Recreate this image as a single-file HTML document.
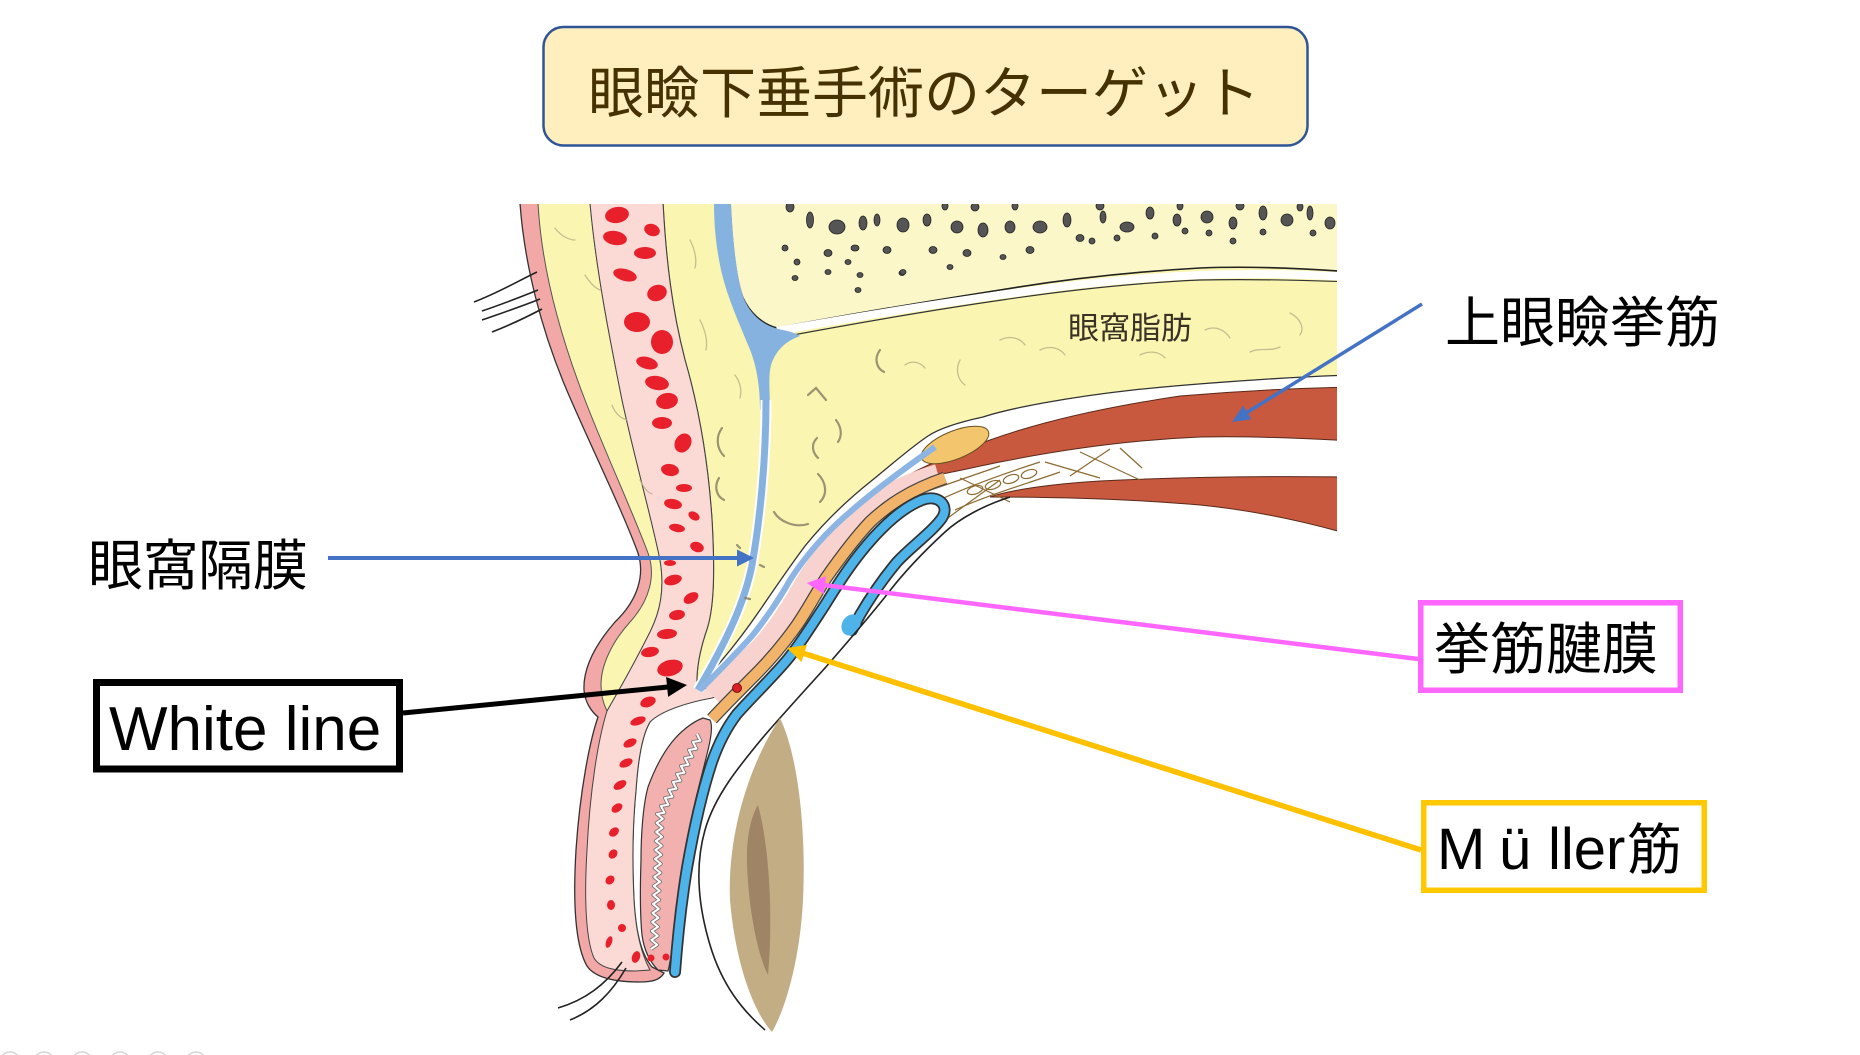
<!DOCTYPE html>
<html><head><meta charset="utf-8"><style>html,body{margin:0;padding:0;background:#fff;}svg{display:block}</style></head>
<body>
<svg width="1860" height="1055" viewBox="0 0 1860 1055" xmlns="http://www.w3.org/2000/svg">
<defs><clipPath id="ill"><rect x="470" y="204" width="867" height="851"/></clipPath></defs>
<rect width="1860" height="1055" fill="#fff"/>

<!-- Title -->
<rect x="543.5" y="27" width="764" height="118.5" rx="20" fill="#FFEEBE" stroke="#2F5597" stroke-width="2.5"/>
<text x="924" y="113" font-family="'Liberation Sans','Noto Sans CJK JP',sans-serif" font-size="56" fill="#463200" text-anchor="middle">眼瞼下垂手術のターゲット</text>

<g clip-path="url(#ill)">
<!-- orbital fat / posterior yellow -->
<path d="M663,203 L1352,203 L1352,375 C1290,377 1200,383 1133,390 C1070,397 1010,408 983,417 C960,422 940,428 928,436 C910,448 890,466 870,482 C845,502 822,525 805,546 C790,566 775,588 760,610 C745,632 722,662 697,688 C696,670 700,650 706,632 C714,610 715,575 712,520 C708,460 698,405 685,360 C672,310 666,260 663,203 Z" fill="#FAF5B0"/>
<path d="M1352,375 C1290,377 1200,383 1133,390 C1070,397 1010,408 983,417 C960,422 940,428 928,436 C910,448 890,466 870,482 C845,502 822,525 805,546 C790,566 775,588 760,610 C745,632 722,662 697,688" fill="none" stroke="#333" stroke-width="1.3"/>

<!-- bone -->
<path d="M730,203 L1352,203 L1352,272 C1300,268 1250,266 1200,268 C1130,272 1060,280 1000,290 C930,301 850,314 777,328 C762,324 750,313 743,298 C736,280 732,245 730,203 Z" fill="#FBF7C8"/>
<path d="M1352,272 C1300,268 1250,266 1200,268 C1130,272 1060,280 1000,290 C930,301 850,314 777,328 C762,324 750,313 743,298 C736,280 732,245 730,203" fill="none" stroke="#222" stroke-width="1.6"/>
<path d="M777,331 C850,318 930,305 1000,295 C1060,286 1130,278 1200,275 C1250,273 1300,274 1352,277" fill="none" stroke="#fff" stroke-width="8"/>
<path d="M782,337 C852,324 932,310 1002,300 C1062,291 1132,283 1200,280 C1250,279 1300,280 1352,282" fill="none" stroke="#333" stroke-width="1.2"/>

<!-- bone dots -->
<g fill="#555" stroke="#222" stroke-width="0.8">
<ellipse cx="790" cy="207" rx="4" ry="5"/><ellipse cx="810" cy="220" rx="3.5" ry="8"/><ellipse cx="837" cy="227" rx="8" ry="7"/><ellipse cx="863" cy="223" rx="4" ry="7"/><ellipse cx="877" cy="220" rx="3" ry="6"/><ellipse cx="903" cy="225" rx="6" ry="7"/>
<ellipse cx="785" cy="248" rx="3" ry="3"/><ellipse cx="797" cy="262" rx="3" ry="3"/><ellipse cx="828" cy="253" rx="4" ry="3.5"/><ellipse cx="855" cy="248" rx="4" ry="3"/><ellipse cx="887" cy="250" rx="4" ry="3.5"/><ellipse cx="848" cy="262" rx="3" ry="2.5"/><ellipse cx="795" cy="278" rx="3" ry="2.5"/><ellipse cx="828" cy="272" rx="3" ry="2.5"/><ellipse cx="860" cy="275" rx="3" ry="2.5"/><ellipse cx="902" cy="273" rx="3" ry="2.5"/><ellipse cx="858" cy="290" rx="3" ry="2.5"/>
<ellipse cx="927" cy="220" rx="4" ry="6"/><ellipse cx="957" cy="227" rx="6" ry="6"/><ellipse cx="983" cy="230" rx="5" ry="7"/><ellipse cx="1010" cy="227" rx="5" ry="6"/><ellipse cx="1040" cy="227" rx="7" ry="6"/><ellipse cx="1067" cy="220" rx="4" ry="7"/><ellipse cx="1080" cy="238" rx="4" ry="3.5"/><ellipse cx="1103" cy="217" rx="3" ry="6"/><ellipse cx="1127" cy="227" rx="7" ry="5"/><ellipse cx="1150" cy="213" rx="4" ry="6"/><ellipse cx="1177" cy="220" rx="4" ry="6"/><ellipse cx="1185" cy="231" rx="3" ry="3"/><ellipse cx="1207" cy="217" rx="6" ry="6"/><ellipse cx="1233" cy="223" rx="4" ry="6"/><ellipse cx="1263" cy="213" rx="4" ry="7"/><ellipse cx="1287" cy="220" rx="6" ry="6"/><ellipse cx="1310" cy="213" rx="3" ry="7"/><ellipse cx="1330" cy="223" rx="5" ry="6"/>
<ellipse cx="1092" cy="241" rx="3" ry="3"/><ellipse cx="1117" cy="238" rx="3" ry="3"/><ellipse cx="1155" cy="236" rx="3" ry="3"/><ellipse cx="1209" cy="233" rx="3" ry="3"/><ellipse cx="1233" cy="241" rx="3" ry="3"/><ellipse cx="1263" cy="232" rx="3" ry="3"/><ellipse cx="1313" cy="233" rx="3" ry="3"/>
<ellipse cx="933" cy="250" rx="4" ry="3.5"/><ellipse cx="967" cy="253" rx="4" ry="3.5"/><ellipse cx="1003" cy="257" rx="3" ry="2.5"/><ellipse cx="1030" cy="250" rx="4" ry="3.5"/><ellipse cx="950" cy="267" rx="3" ry="2.5"/><ellipse cx="903" cy="272" rx="3" ry="2.5"/>
<ellipse cx="945" cy="206" rx="3" ry="4"/><ellipse cx="975" cy="207" rx="4" ry="4"/><ellipse cx="1015" cy="206" rx="3" ry="4"/><ellipse cx="1100" cy="206" rx="4" ry="4"/><ellipse cx="1180" cy="206" rx="3" ry="4"/><ellipse cx="1240" cy="206" rx="4" ry="4"/><ellipse cx="1300" cy="207" rx="3" ry="4"/>
</g>

<!-- levator, oval, superior rectus -->
<path d="M905,477 C920,468 950,455 990,440 C1040,422 1100,408 1180,396 C1250,390 1300,388 1352,387 L1352,441 C1300,438 1250,436 1200,437 C1130,440 1060,450 1000,462 C960,470 930,478 905,479 Z" fill="#C8583E" stroke="#5a2a1a" stroke-width="1"/>
<ellipse cx="955" cy="445" rx="36" ry="14" transform="rotate(-22 955 445)" fill="#F3C66E" stroke="#6a5020" stroke-width="1"/>
<path d="M990,497 C1010,490 1050,484 1100,481 C1180,477 1270,476 1352,477 L1352,535 C1300,520 1250,510 1200,505 C1130,499 1060,497 990,497 Z" fill="#C8583E" stroke="#5a2a1a" stroke-width="1"/>
<g fill="none" stroke="#8C6A30" stroke-width="1.2">
<path d="M925,492 L1000,466"/><path d="M935,502 C960,490 990,478 1040,462"/><path d="M955,510 C985,496 1020,486 1060,472"/>
<ellipse cx="975" cy="490" rx="8" ry="4" transform="rotate(-18 975 490)"/><ellipse cx="993" cy="485" rx="8" ry="4" transform="rotate(-18 993 485)"/><ellipse cx="1011" cy="479" rx="8" ry="4" transform="rotate(-18 1011 479)"/><ellipse cx="1029" cy="474" rx="8" ry="4" transform="rotate(-18 1029 474)"/>
<path d="M1080,452 L1140,480"/><path d="M1110,449 L1070,476"/><path d="M1120,448 L1142,468"/><path d="M945,520 L1000,480"/><path d="M960,478 L1010,502"/><path d="M1045,462 L1100,478"/>
</g>

<!-- skin (outer pink) -->
<path d="M520,203 C524,260 540,330 571,400 C595,455 622,510 638,553 C645,575 638,600 615,622 C595,645 583,668 584,690 C585,703 592,712 598,717 C590,740 580,790 576,850 C573,900 575,945 587,966 C595,978 615,982 640,982 C652,982 660,980 664,973 L652,967 C642,955 636,935 634,900 C632,860 633,820 636,790 C638,760 642,735 650,722 C660,710 680,700 697,688 C696,670 700,650 706,632 C714,610 715,575 712,520 C708,460 698,405 685,360 C672,310 666,260 663,203 Z" fill="#F2A8A6" stroke="#333" stroke-width="1.3"/>
<!-- subcutaneous yellow -->
<path d="M538,203 C541,260 556,325 585,400 C605,452 632,510 648,553 C656,575 650,600 630,622 C612,642 601,665 601,685 C601,697 604,705 607,711 C625,680 640,652 650,632 C660,612 665,590 660,560 C652,520 635,460 622,400 C610,340 596,270 590,203 Z" fill="#FAF5B0" stroke="#555" stroke-width="1"/>
<!-- muscle light pink -->
<path d="M590,203 C596,270 610,340 622,400 C635,460 652,520 660,560 C665,590 660,612 650,632 C640,652 625,680 607,711 C598,740 590,790 587,850 C584,900 586,940 594,958 C600,968 615,971 635,971 L650,970 C642,955 636,935 634,900 C632,860 633,820 636,790 C638,760 642,735 650,722 C662,710 690,702 712,698 L735,690 L697,688 C696,670 700,650 706,632 C714,610 715,575 712,520 C708,460 698,405 685,360 C672,310 666,260 663,203 Z" fill="#FBDAD6" stroke="#444" stroke-width="1"/>

<!-- red blobs -->
<g fill="#E8202C">
<ellipse cx="617" cy="215" rx="12" ry="8" transform="rotate(-10 617 215)"/><ellipse cx="652" cy="230" rx="8" ry="6" transform="rotate(20 652 230)"/><ellipse cx="615" cy="238" rx="12" ry="7" transform="rotate(10 615 238)"/><ellipse cx="645" cy="253" rx="11" ry="6"/><ellipse cx="625" cy="275" rx="12" ry="6" transform="rotate(15 625 275)"/><ellipse cx="657" cy="293" rx="10" ry="8" transform="rotate(-20 657 293)"/><ellipse cx="637" cy="322" rx="13" ry="10"/><ellipse cx="662" cy="342" rx="11" ry="12"/><ellipse cx="647" cy="363" rx="11" ry="6" transform="rotate(15 647 363)"/><ellipse cx="657" cy="383" rx="12" ry="7" transform="rotate(10 657 383)"/><ellipse cx="667" cy="401" rx="11" ry="8" transform="rotate(-10 667 401)"/><ellipse cx="662" cy="423" rx="10" ry="6"/><ellipse cx="683" cy="443" rx="8" ry="10" transform="rotate(30 683 443)"/><ellipse cx="670" cy="470" rx="9" ry="6" transform="rotate(10 670 470)"/><ellipse cx="684" cy="488" rx="8" ry="4"/><ellipse cx="673" cy="504" rx="9" ry="5" transform="rotate(10 673 504)"/><ellipse cx="694" cy="516" rx="6" ry="4" transform="rotate(30 694 516)"/><ellipse cx="677" cy="528" rx="8" ry="4" transform="rotate(10 677 528)"/><ellipse cx="697" cy="547" rx="7" ry="5" transform="rotate(20 697 547)"/><ellipse cx="670" cy="563" rx="6" ry="3"/><ellipse cx="673" cy="580" rx="9" ry="5" transform="rotate(-15 673 580)"/><ellipse cx="691" cy="598" rx="8" ry="5" transform="rotate(-30 691 598)"/><ellipse cx="677" cy="615" rx="8" ry="5" transform="rotate(-10 677 615)"/>
<ellipse cx="667" cy="634" rx="10" ry="5" transform="rotate(-5 667 634)"/><ellipse cx="650" cy="652" rx="9" ry="5" transform="rotate(-10 650 652)"/><ellipse cx="670" cy="668" rx="13" ry="8" transform="rotate(-15 670 668)"/><ellipse cx="648" cy="702" rx="8" ry="5" transform="rotate(-20 648 702)"/><ellipse cx="638" cy="721" rx="8" ry="4" transform="rotate(-20 638 721)"/><ellipse cx="630" cy="743" rx="7" ry="4" transform="rotate(-25 630 743)"/><ellipse cx="626" cy="763" rx="7" ry="4" transform="rotate(-25 626 763)"/><ellipse cx="620" cy="785" rx="7" ry="4" transform="rotate(-30 620 785)"/><ellipse cx="617" cy="808" rx="6" ry="4" transform="rotate(-35 617 808)"/><ellipse cx="614" cy="832" rx="5.5" ry="4" transform="rotate(-40 614 832)"/><ellipse cx="613" cy="854" rx="5" ry="4" transform="rotate(-50 613 854)"/><ellipse cx="610" cy="880" rx="5" ry="4" transform="rotate(-45 610 880)"/><ellipse cx="611" cy="905" rx="4" ry="5"/><ellipse cx="622" cy="928" rx="4" ry="4"/><ellipse cx="609" cy="942" rx="3" ry="6" transform="rotate(20 609 942)"/><ellipse cx="636" cy="957" rx="4" ry="6" transform="rotate(20 636 957)"/>
</g>

<!-- septum -->
<path d="M714,203 L731,203 C733,245 737,280 744,299 C751,315 763,325 778,329 C788,331 796,333 800,336 C786,341 776,350 771,365 C768,378 770,392 770,410 L760,410 C760,385 756,362 748,345 C738,320 726,295 720,265 C716,245 714,225 714,203 Z" fill="#86B2E0"/>
<path d="M766,400 C766,460 760,520 752,565 C745,600 730,635 698,690" fill="none" stroke="#fff" stroke-width="11"/>
<path d="M766,400 C766,460 760,520 752,565 C745,600 730,635 698,690" fill="none" stroke="#86B2E0" stroke-width="7"/>

<!-- aponeurosis (pink), light blue, Muller (orange) -->
<path d="M712,695 C728,680 745,662 760,648 C775,632 790,610 805,583 C820,558 840,535 864,512 C885,495 905,484 938,474" fill="none" stroke="#F8D2CE" stroke-width="20"/>
<path d="M700,690 C715,675 735,655 752,636 C765,620 780,598 790,580 C805,557 825,533 850,512 C875,490 905,468 935,447" fill="none" stroke="#8DB5E3" stroke-width="6"/>
<path d="M712,719 C725,705 740,690 755,675 C770,660 785,642 797,625 C808,609 815,595 826,578 C840,558 855,538 870,522 C888,505 910,490 945,478" fill="none" stroke="#444" stroke-width="13"/>
<path d="M712,719 C725,705 740,690 755,675 C770,660 785,642 797,625 C808,609 815,595 826,578 C840,558 855,538 870,522 C888,505 910,490 945,478" fill="none" stroke="#F2B46A" stroke-width="10.5"/>
<circle cx="737" cy="688" r="4.5" fill="#D81E28" stroke="#600" stroke-width="0.8"/>

<!-- tarsus -->
<path d="M703,718 C692,722 680,732 672,742 C664,752 655,768 648,787 C643,805 641,835 641,860 C640,890 640,915 642,935 C644,950 650,962 658,970 L668,971 C671,960 674,935 677,905 C680,880 684,855 690,825 C695,800 702,775 708,750 C711,738 713,726 710,720 Z" fill="#F2B0AE" stroke="#333" stroke-width="1.2"/>
<path d="M697,734 l3.4,6.7 l-7.4,1.3 l3.4,6.7 l-7.4,1.3 l3.4,6.7 l-7.4,1.3 l3.4,6.7 l-7.4,1.3 l3.4,6.7 l-7.4,1.3 l3.4,6.7 l-7.4,1.3 l3.4,6.7 l-7.4,1.3 l3.4,6.7 l-7.4,1.3 l3.4,6.7 l-7.4,1.3 l3.4,6.7 l-7.4,1.3 l5.8,4.8 l-6.2,4.2 l5.8,4.8 l-6.2,4.2 l5.8,4.8 l-6.2,4.2 l5.8,4.8 l-6.2,4.2 l5.8,4.8 l-6.2,4.2 l5.8,4.8 l-6.2,4.2 l5.8,4.8 l-6.2,4.2 l5.8,4.8 l-6.2,4.2 l5.8,4.8 l-6.2,4.2 l5.8,4.8 l-6.2,4.2 l5.8,4.8 l-6.2,4.2 l5.8,4.8 l-6.2,4.2 l5.8,4.8 l-6.2,4.2 l5.8,4.8 l-6.2,4.2 l5.8,4.8 l-6.2,4.2" fill="none" stroke="#777" stroke-width="3.8" stroke-linejoin="round"/>
<path d="M697,734 l3.4,6.7 l-7.4,1.3 l3.4,6.7 l-7.4,1.3 l3.4,6.7 l-7.4,1.3 l3.4,6.7 l-7.4,1.3 l3.4,6.7 l-7.4,1.3 l3.4,6.7 l-7.4,1.3 l3.4,6.7 l-7.4,1.3 l3.4,6.7 l-7.4,1.3 l3.4,6.7 l-7.4,1.3 l3.4,6.7 l-7.4,1.3 l5.8,4.8 l-6.2,4.2 l5.8,4.8 l-6.2,4.2 l5.8,4.8 l-6.2,4.2 l5.8,4.8 l-6.2,4.2 l5.8,4.8 l-6.2,4.2 l5.8,4.8 l-6.2,4.2 l5.8,4.8 l-6.2,4.2 l5.8,4.8 l-6.2,4.2 l5.8,4.8 l-6.2,4.2 l5.8,4.8 l-6.2,4.2 l5.8,4.8 l-6.2,4.2 l5.8,4.8 l-6.2,4.2 l5.8,4.8 l-6.2,4.2 l5.8,4.8 l-6.2,4.2 l5.8,4.8 l-6.2,4.2" fill="none" stroke="#fff" stroke-width="2" stroke-linejoin="round"/>
<circle cx="651" cy="958" r="3.5" fill="#E8202C"/><circle cx="666" cy="957" r="3.5" fill="#E8202C"/>

<!-- conjunctiva loop -->
<path d="M675,972 C677,945 681,905 687,868 C694,828 702,792 712,762 C719,742 727,727 737,714 C752,697 770,680 787,660 C800,644 812,625 825,605 C838,584 850,565 866,546 C882,527 902,508 922,500 C938,494 950,505 942,518 C932,532 912,546 897,562 C882,580 870,598 860,615 L852,630" fill="none" stroke="#333" stroke-width="12" stroke-linecap="round"/>
<path d="M675,972 C677,945 681,905 687,868 C694,828 702,792 712,762 C719,742 727,727 737,714 C752,697 770,680 787,660 C800,644 812,625 825,605 C838,584 850,565 866,546 C882,527 902,508 922,500 C938,494 950,505 942,518 C932,532 912,546 897,562 C882,580 870,598 860,615 L852,630" fill="none" stroke="#4DB3E8" stroke-width="8.5" stroke-linecap="round"/>
<ellipse cx="851" cy="625" rx="9" ry="11" transform="rotate(30 851 625)" fill="#4DB3E8"/>

<!-- globe line -->
<path d="M1010,497 C985,505 960,518 945,532 C920,555 900,577 885,597 C865,622 845,645 825,668 C805,690 785,712 765,735 C740,765 715,795 705,830 C695,865 698,905 710,945 C722,985 742,1010 765,1030" fill="none" stroke="#222" stroke-width="1.6"/>

<!-- eye lens shape -->
<path d="M780,718 C800,760 806,840 803,900 C800,960 785,1010 772,1032 C752,1010 735,960 730,900 C727,830 752,760 780,718 Z" fill="#C3AD85"/>
<path d="M758,805 C770,850 773,920 768,975 C755,950 746,890 747,850 C748,830 752,815 758,805 Z" fill="#A08466"/>

<!-- eyelashes -->
<g fill="none" stroke="#222" stroke-width="1.6">
<path d="M537,272 C520,280 500,292 474,302"/><path d="M538,290 C518,298 500,305 482,311"/><path d="M540,299 C520,307 502,313 482,320"/><path d="M542,309 C525,318 510,325 492,332"/>
<path d="M622,962 C605,985 585,1000 558,1008"/><path d="M626,968 C612,992 595,1010 570,1020"/>
</g>

<!-- fat squiggles -->
<g fill="none" stroke="#8A8468" stroke-width="2.2" stroke-linecap="round" opacity="0.85">
<path d="M722,428 C716,436 716,448 724,456"/><path d="M719,478 C714,486 716,496 724,500"/><path d="M774,512 C780,522 795,528 808,524"/><path d="M818,474 C826,482 828,494 820,502"/><path d="M817,438 C811,444 812,452 818,458"/><path d="M808,395 L816,388 L826,400"/><path d="M836,420 C842,428 842,436 838,442"/><path d="M880,350 C874,358 876,368 884,372"/><path d="M760,565 l4,2"/><path d="M745,598 l5,1"/><path d="M737,545 l3,3"/>
</g>
<g fill="none" stroke="#B8B08A" stroke-width="1.3" stroke-linecap="round" opacity="0.8">
<path d="M905,365 C912,360 920,362 925,368"/><path d="M1040,350 C1050,345 1060,348 1065,355"/><path d="M1205,330 C1215,325 1225,330 1230,338"/><path d="M1250,352 C1260,347 1270,352 1280,347"/><path d="M1290,313 C1300,318 1305,328 1300,335"/><path d="M960,360 C955,370 958,380 965,385"/><path d="M1000,340 C1010,335 1020,338 1025,345"/><path d="M1140,355 C1150,350 1160,352 1165,358"/>
<path d="M555,228 C560,235 568,240 575,240"/><path d="M585,275 C590,283 595,288 600,290"/><path d="M612,405 C615,413 620,418 627,420"/><path d="M640,480 C644,488 647,492 652,494"/><path d="M690,240 C695,250 697,260 695,268"/><path d="M700,320 C705,330 708,340 706,350"/><path d="M735,375 C740,382 742,390 740,398"/>
</g>

<text x="1068" y="339" font-family="'Liberation Sans','Noto Sans CJK JP',sans-serif" font-size="31" fill="#3A3325">眼窩脂肪</text>
</g>

<!-- Labels -->
<g font-family="'Liberation Sans','Noto Sans CJK JP',sans-serif" fill="#000">
<text x="1445" y="342" font-size="55">上眼瞼挙筋</text>
<text x="88" y="585" font-size="55">眼窩隔膜</text>
<text x="1434" y="669" font-size="56">挙筋腱膜</text>
<text x="1627" y="869" font-size="55">筋</text>
</g>
<text font-family="'Liberation Sans',sans-serif" font-size="58" y="869" fill="#000"><tspan x="1437">M</tspan><tspan x="1499">ü</tspan><tspan x="1548">ller</tspan></text>
<text x="109" y="750" font-family="'Liberation Sans',sans-serif" font-size="62" fill="#000">White line</text>

<!-- Boxes -->
<rect x="96.5" y="682.5" width="303" height="86.5" fill="none" stroke="#000" stroke-width="7"/>
<rect x="1420.75" y="602.75" width="259.5" height="87.5" fill="none" stroke="#FF66FF" stroke-width="5.5"/>
<rect x="1423.75" y="802.75" width="280.5" height="87.5" fill="none" stroke="#FFC800" stroke-width="5.5"/>

<!-- Arrows -->
<line x1="1422" y1="304" x2="1247" y2="412.5" stroke="#4472C4" stroke-width="3.5"/>
<polygon points="1232,422 1251.5,419.3 1243.1,405.7" fill="#4472C4"/>
<line x1="328" y1="558" x2="740" y2="558" stroke="#4472C4" stroke-width="4"/>
<polygon points="754,558 737,549.5 737,566.5" fill="#4472C4"/>
<line x1="403" y1="713" x2="668" y2="687" stroke="#000" stroke-width="5"/>
<polygon points="687,685 668.1,696.9 666.1,677" fill="#000"/>
<line x1="1418" y1="659" x2="825" y2="585.2" stroke="#FF66FF" stroke-width="4.5"/>
<polygon points="807,583 826,576.3 823.8,594.1" fill="#FF66FF"/>
<line x1="1421" y1="850" x2="804" y2="653.5" stroke="#FFC000" stroke-width="5.5"/>
<polygon points="787,648 806.9,644.9 801.5,662.1" fill="#FFC000"/>

<!-- faint toolbar icons -->
<g fill="none" stroke="#d6d6d6" stroke-width="1.5">
<circle cx="10" cy="1062" r="10"/><circle cx="44" cy="1062" r="10"/><circle cx="82" cy="1062" r="10"/><circle cx="120" cy="1062" r="10"/><circle cx="158" cy="1062" r="10"/><circle cx="196" cy="1062" r="10"/>
</g>
</svg>
</body></html>
